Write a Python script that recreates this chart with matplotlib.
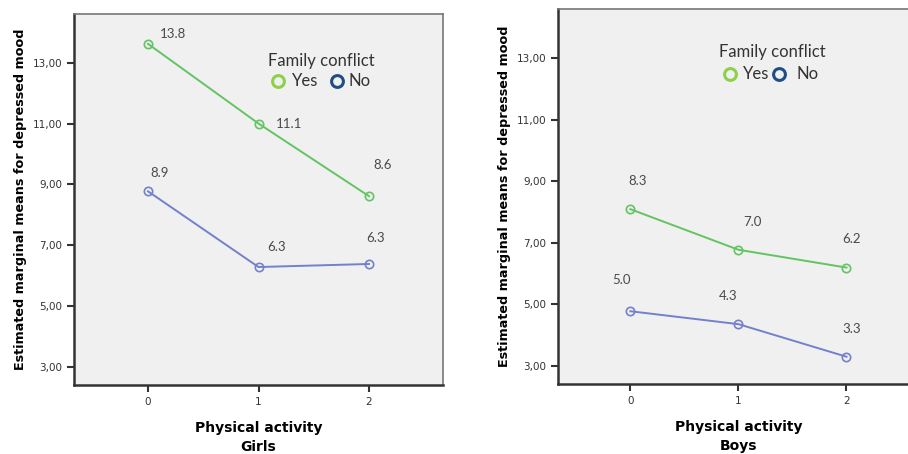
import matplotlib.pyplot as plt

# Estimated marginal means
activity = [0, 1, 2]
girls_yes = [13.62, 11.0, 8.61]
girls_no = [8.77, 6.28, 6.38]
boys_yes = [8.09, 6.77, 6.19]
boys_no = [4.77, 4.35, 3.29]

girls_yes_lbl = ['13.8', '11.1', '8.6']
girls_no_lbl = ['8.9', '6.3', '6.3']
boys_yes_lbl = ['8.3', '7.0', '6.2']
boys_no_lbl = ['5.0', '4.3', '3.3']

y_ticks = [3, 5, 7, 9, 11, 13]
y_tick_labels = ['3,00', '5,00', '7,00', '9,00', '11,00', '13,00']

# label offsets in pixels
girls_yes_off = [(25, 10), (31, 0), (14, 31)]
girls_no_off = [(12, 18), (18, 20), (7, 26)]
boys_yes_off = [(7, 28), (14, 28), (5, 29)]
boys_no_off = [(-9, 31), (-10, 28), (5, 28)]

YES_LINE = '#62c462'
NO_LINE = '#7381cc'
YES_LEG = '#8dd04a'
NO_LEG = '#1f4e86'
BG = '#f0f0f0'
LEG_FONT = 'Lato'

fig = plt.figure(figsize=(9.08, 4.54), dpi=100)
ax_g = fig.add_axes([0.0815, 0.152, 0.4064, 0.817])
ax_b = fig.add_axes([0.6145, 0.154, 0.3975, 0.826])


def draw_panel(ax, yes, no, yes_lbl, no_lbl, yes_off, no_off, sex, leg_xy):
    ax.set_facecolor(BG)
    ax.plot(activity, yes, color=YES_LINE, lw=1.4, marker='o', ms=6,
            mfc='none', mec=YES_LINE, mew=1.2)
    ax.plot(activity, no, color=NO_LINE, lw=1.4, marker='o', ms=6,
            mfc='none', mec=NO_LINE, mew=1.2)
    for x, y, t, off in zip(activity, yes, yes_lbl, yes_off):
        ax.annotate(t, (x, y), xytext=off, textcoords='offset pixels',
                    ha='center', va='center', fontsize=9.5, color='#4a4a4a',
                    family=LEG_FONT)
    for x, y, t, off in zip(activity, no, no_lbl, no_off):
        ax.annotate(t, (x, y), xytext=off, textcoords='offset pixels',
                    ha='center', va='center', fontsize=9.5, color='#4a4a4a',
                    family=LEG_FONT)

    ax.set_xlim(-0.67, 2.67)
    ax.set_ylim(2.4, 14.6)
    ax.set_xticks(activity)
    ax.set_yticks(y_ticks)
    ax.set_yticklabels(y_tick_labels)
    ax.tick_params(axis='both', direction='out', length=5, width=1.5,
                   color='#333333', labelsize=7.5, labelcolor='#333333')
    for s in ['left', 'bottom']:
        ax.spines[s].set_color('#333333')
        ax.spines[s].set_linewidth(1.8)
    for s in ['top', 'right']:
        ax.spines[s].set_color('#777777')
        ax.spines[s].set_linewidth(1.2)

    ax.set_ylabel('Estimated marginal means for depressed mood',
                  fontsize=9.2, fontweight='bold', labelpad=4)
    ax.set_xlabel('Physical activity\n' + sex, fontsize=10,
                  fontweight='bold', labelpad=10, linespacing=1.5)

    lx, ly = leg_xy
    ax.annotate('Family conflict', (lx, ly), xycoords='figure pixels',
                ha='center', va='center', fontsize=12, color='#333333',
                family=LEG_FONT)
    return ax


draw_panel(ax_g, girls_yes, girls_no, girls_yes_lbl, girls_no_lbl,
           girls_yes_off, girls_no_off, 'Girls', (321, 454 - 61))
draw_panel(ax_b, boys_yes, boys_no, boys_yes_lbl, boys_no_lbl,
           boys_yes_off, boys_no_off, 'Boys', (772, 454 - 52))

# legend entries (circle + text)
leg_items = [
    (278, 454 - 81, YES_LEG, 'Yes', 292), (337, 454 - 81, NO_LEG, 'No', 348),
    (730, 454 - 74, YES_LEG, 'Yes', 743), (779, 454 - 74, NO_LEG, 'No', 796),
]
for cx, cy, col, txt, tx in leg_items:
    fig.lines.append(plt.Line2D([cx / 908], [cy / 454], transform=fig.transFigure,
                                marker='o', ms=8.5, mfc='none', mec=col, mew=2.2))
    fig.text(tx / 908, cy / 454, txt, ha='left', va='center', fontsize=12,
             color='#333333', family=LEG_FONT)

fig.savefig('out.png', dpi=100, facecolor='white')
